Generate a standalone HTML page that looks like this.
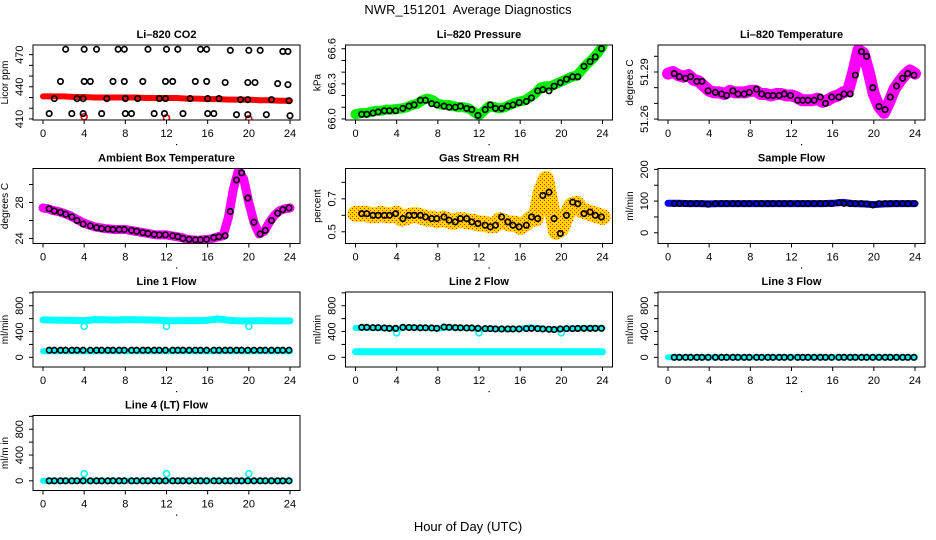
<!DOCTYPE html>
<html><head><meta charset="utf-8">
<style>
html,body{margin:0;padding:0;background:#fff;}
svg{display:block;font-family:"Liberation Sans",Arial,sans-serif;}
</style></head>
<body>
<svg id="chart" width="936" height="540" viewBox="0 0 936 540" xmlns="http://www.w3.org/2000/svg">
<defs>
<pattern id="rhpat" width="4" height="4" patternUnits="userSpaceOnUse">
<rect width="4" height="4" fill="#ffd200"/>
<rect x="0" y="0" width="1" height="1" fill="#ff2000"/>
<rect x="2" y="2" width="1" height="1" fill="#ff2000"/>
</pattern>
</defs>
<text x="468" y="14" text-anchor="middle" font-size="13" xml:space="preserve" style="white-space:pre">NWR_151201&#160; Average Diagnostics</text>
<text x="468" y="531" text-anchor="middle" font-size="13">Hour of Day (UTC)</text>
</svg>
<script>
// ---- shared hour arrays ----
const bandHoursFine = [0,0.5,1,1.5,2,2.5,3,3.5,4,4.5,5,5.5,6,6.5,7,7.5,8,8.5,9,9.5,10,10.5,11,11.5,12,12.5,13,13.5,14,14.5,15,15.5,16,16.5,17,17.5,18,18.5,19,19.5,20,20.5,21,21.5,22,22.5,23,23.5,24];
const bandHoursCoarse = [0,1,2,3,4,5,6,7,8,9,10,11,12,13,14,15,16,17,18,19,20,21,22,23,24];
const blackHours = [0.6,1.1,1.7,2.2,2.8,3.3,3.9,4.6,5.2,5.7,6.3,6.8,7.4,7.9,8.6,9.1,9.7,10.2,10.8,11.3,11.9,12.6,13.1,13.6,14.2,14.8,15.3,15.9,16.6,17.1,17.7,18.2,18.8,19.3,19.9,20.5,21.1,21.6,22.2,22.8,23.3,23.9];
const outlierHours = [4,12,20];
const xTicks = [0,4,8,12,16,20,24];

// ---- CO2 ----
const co2Band = [431,431,431,430.5,430.5,430,430,430,430,430,429.5,429.5,429.5,429.5,429,429,428.5,428.5,428,428,428,427.5,427.5,427,427];
const co2BlackHours = [2.2,4.0,5.2,7.3,7.9,10.2,12.0,13.1,15.3,15.9,18.2,20.0,21.1,23.3,23.8,
 1.7,4.0,4.6,6.8,7.9,9.7,11.9,12.6,14.8,15.9,17.7,19.9,20.6,22.8,23.8,
 1.1,3.3,3.9,6.2,8.0,9.2,11.3,11.9,14.3,16.0,17.1,19.2,19.9,22.2,23.9,
 0.6,2.8,3.9,5.7,8.0,8.6,10.8,11.8,13.6,16.0,16.6,18.8,19.9,21.7,24.0];
const co2BlackVals = [475,475,475,475,475,475,475,475,475,475,474,474,474,473,473,
 445,445,445,445,445,445,445,445,445,445,444,444,444,443,442,
 429,429,429,429,429,429,429,429,429,429,429,428,428,428,427,
 415,415,415,415,415,415,415,415,415,415,415,414,414,414,413];
const co2Outliers = [412,411,410];

// ---- Pressure ----
const presBand = [66.04,66.05,66.05,66.06,66.07,66.07,66.08,66.08,66.085,66.09,66.10,66.12,66.13,66.16,66.175,66.16,66.13,66.12,66.12,66.11,66.10,66.10,66.09,66.06,66.03,66.07,66.11,66.10,66.09,66.10,66.12,66.14,66.15,66.16,66.19,66.22,66.27,66.28,66.28,66.30,66.32,66.34,66.36,66.37,66.42,66.47,66.51,66.56,66.62];
const presBlack = [66.04,66.04,66.05,66.06,66.07,66.07,66.07,66.09,66.11,66.12,66.16,66.16,66.13,66.12,66.11,66.10,66.10,66.11,66.09,66.08,66.03,66.08,66.12,66.09,66.09,66.11,66.12,66.14,66.15,66.18,66.24,66.25,66.24,66.28,66.31,66.34,66.36,66.36,66.45,66.49,66.53,66.60];

// ---- Li-820 Temperature ----
const tempBand = [51.289,51.290,51.288,51.287,51.288,51.285,51.284,51.281,51.278,51.277,51.277,51.276,51.278,51.277,51.277,51.277,51.278,51.278,51.276,51.276,51.275,51.276,51.276,51.275,51.275,51.274,51.272,51.272,51.272,51.273,51.271,51.272,51.274,51.275,51.277,51.278,51.290,51.304,51.302,51.290,51.276,51.268,51.264,51.271,51.279,51.284,51.288,51.291,51.289];
const tempBlack = [51.289,51.287,51.286,51.287,51.284,51.284,51.278,51.277,51.276,51.275,51.278,51.276,51.276,51.277,51.279,51.276,51.275,51.275,51.275,51.276,51.275,51.272,51.272,51.272,51.272,51.274,51.270,51.274,51.274,51.276,51.276,51.288,51.303,51.300,51.280,51.268,51.266,51.274,51.281,51.286,51.289,51.288];

// ---- Ambient Box Temperature ----
const ambBand = [27.4,27.3,27.1,27.0,26.8,26.6,26.3,26.0,25.7,25.5,25.3,25.2,25.1,25.05,25.0,25.0,25.0,24.9,24.8,24.7,24.6,24.5,24.4,24.4,24.4,24.3,24.2,24.1,23.9,23.85,23.8,23.85,23.9,24.0,24.2,24.3,26.3,29.5,31.6,30.6,28.0,25.8,24.5,24.8,25.8,26.6,27.1,27.3,27.4];
const ambBlack = [27.3,27.05,26.9,26.7,26.4,26.0,25.6,25.4,25.2,25.1,25.05,25.0,25.0,25.0,24.9,24.8,24.65,24.55,24.45,24.4,24.4,24.3,24.2,24.0,23.9,23.85,23.85,23.9,24.1,24.2,24.3,27.0,30.5,31.3,28.5,25.8,24.5,24.9,26.0,26.8,27.2,27.4];

// ---- Gas Stream RH ----
const rhBand = [0.61,0.61,0.61,0.60,0.60,0.61,0.60,0.60,0.61,0.58,0.59,0.60,0.60,0.59,0.58,0.58,0.57,0.58,0.57,0.56,0.57,0.57,0.56,0.56,0.55,0.55,0.54,0.54,0.57,0.56,0.55,0.55,0.53,0.55,0.58,0.58,0.74,0.82,0.66,0.50,0.52,0.60,0.66,0.67,0.63,0.62,0.61,0.60,0.59];
const rhBlack = [0.61,0.61,0.60,0.60,0.60,0.60,0.61,0.58,0.60,0.60,0.60,0.59,0.58,0.58,0.59,0.57,0.56,0.58,0.58,0.56,0.55,0.54,0.53,0.54,0.59,0.56,0.54,0.53,0.54,0.59,0.58,0.72,0.74,0.58,0.49,0.60,0.68,0.67,0.61,0.62,0.60,0.59];

// ---- Sample Flow ----
const sampBand = [93,93,92,92,91,92,92,92,92,92,92,92,92,92,92,92,93,96,92,91,89,91,92,92,92];
const sampBlack = [92,92,92,92,92,92,90,92,92,92,92,92,92,92,92,92,92,92,92,92,92,92,92,92,92,92,92,92,95,93,92,92,92,91,88,92,92,92,92,92,92,92];

// ---- Line flows ----
const line1High = [580,578,575,572,570,585,582,578,585,583,580,578,570,568,570,570,575,595,575,565,565,568,565,565,565];
const line1Low = [95,95,95,95,95,95,95,95,95,95,95,95,95,95,95,95,95,95,95,95,95,95,95,95,95];
const line1Black = [110,110,110,110,110,110,110,110,110,110,110,110,110,110,110,110,110,110,110,110,110,110,110,110,110,110,110,110,110,110,110,110,110,110,110,110,110,110,110,110,110,110];
const line1Outliers = [480,480,480];
const line2High = [455,460,455,450,440,465,460,455,445,465,460,455,440,445,440,440,445,465,450,435,440,445,450,450,455];
const line2Low = [85,85,85,85,85,85,85,85,85,85,85,85,85,85,85,85,85,85,85,85,85,85,85,85,85];
const line2Black = [465,465,460,460,455,450,450,465,462,460,458,458,455,450,470,465,460,458,455,455,450,445,445,440,440,440,440,440,445,450,445,440,435,430,440,445,445,448,450,450,450,450];
const line2Outliers = [380,380,380];
const line3Cyan = [0,0,0,0,0,0,0,0,0,0,0,0,0,0,0,0,0,0,0,0,0,0,0,0,0];
const line3Black = [0,0,0,0,0,0,0,0,0,0,0,0,0,0,0,0,0,0,0,0,0,0,0,0,0,0,0,0,0,0,0,0,0,0,0,0,0,0,0,0,0,0];
const line4Cyan = [0,0,0,0,0,0,0,0,0,0,0,0,0,0,0,0,0,0,0,0,0,0,0,0,0];
const line4Black = [0,0,0,0,0,0,0,0,0,0,0,0,0,0,0,0,0,0,0,0,0,0,0,0,0,0,0,0,0,0,0,0,0,0,0,0,0,0,0,0,0,0];
const line4Outliers = [110,110,110];

const NS = "http://www.w3.org/2000/svg";
const svg = document.getElementById("chart");
function mk(tag, attrs, parent){
  const e = document.createElementNS(NS, tag);
  for (const k in attrs) e.setAttribute(k, attrs[k]);
  (parent||svg).appendChild(e);
  return e;
}
function slug(s){return s.toLowerCase().replace(/[^a-z0-9]+/g,'-').replace(/^-|-$/g,'');}

function panel(p){
  const left = 33 + p.col*312.5, right = left + 267;
  const top = 45 + p.row*123.5, bottom = top + 75;
  const g = mk("g", {});
  
  
  const xs = h => left + 10 + h*(247/24);
  const ys = v => bottom - (v - p.lo)/(p.hi - p.lo)*75;
  const t = mk("text", {x:(left+right)/2, y:top-7, "text-anchor":"middle", "font-size":"11", "font-weight":"bold"}, g);
  t.textContent = p.title;
  
  
  const cid = "clip" + p.col + "_" + p.row;
  const cp = mk("clipPath", {id:cid}, g);
  mk("rect", {x:left, y:top, width:267, height:75}, cp);
  const plot = mk("g", {"clip-path":"url(#"+cid+")"}, g);
  (p.bands||[]).forEach(b=>{
    const pts = b.vals.map((v,i)=>xs(b.hours[i]).toFixed(1)+","+ys(v).toFixed(1)).join(" ");
    const pl = mk("polyline", {points:pts, fill:"none", stroke:b.color, "stroke-width":b.w, "stroke-linejoin":"round", "stroke-linecap":"round"}, plot);
    
    
  });
  if (p.outliers){
    p.outliers.vals.forEach((v,i)=>{
      const c = mk("circle", {cx:xs(outlierHours[i]), cy:ys(v), r:3, fill:"none", stroke:p.outliers.color, "stroke-width":1.6}, plot);
      
      
    });
  }
  if (p.black){
    p.black.vals.forEach((v,i)=>{
      const c = mk("circle", {cx:xs(p.black.hours[i]), cy:ys(v), r:2.7, fill:"none", stroke:"#000", "stroke-width":1.7}, plot);
      
      
    });
  }
  const bx = mk("rect", {x:left, y:top, width:267, height:75, fill:"none", stroke:"#000", "stroke-width":1}, g);
  
  
  xTicks.forEach(h=>{
    mk("line", {x1:xs(h), x2:xs(h), y1:bottom, y2:bottom+4, stroke:"#000"}, g);
    const tl = mk("text", {x:xs(h), y:bottom+17, "text-anchor":"middle", "font-size":"11"}, g);
    tl.textContent = h;
    
    
  });
  mk("rect", {x:left+143, y:bottom+24, width:1.2, height:1.2, fill:"#000"}, g);
  p.ticks.forEach(v=>{
    mk("line", {x1:left, x2:left-4, y1:ys(v), y2:ys(v), stroke:"#000"}, g);
  });
  p.labels.forEach(v=>{
    const yy = ys(v), xx = left-10;
    const tl = mk("text", {x:xx, y:yy, "text-anchor":"middle", "font-size":"11", transform:"rotate(-90 "+xx+" "+yy+")"}, g);
    tl.textContent = p.fmt ? v.toFixed(p.fmt) : v;
    
    
  });
  const yl = left-25, ym = (top+bottom)/2;
  const ylab = mk("text", {x:yl, y:ym, "text-anchor":"middle", "font-size":"10", transform:"rotate(-90 "+yl+" "+ym+")"}, g);
  ylab.textContent = p.ylab;
  
  
}

const flowTicks=[0,200,400,600,800,1000], flowLabels=[0,400,800];
panel({col:0,row:0,title:"Li\u2013820 CO2",ylab:"Licor ppm",lo:409,hi:479,ticks:[410,420,430,440,450,460,470],labels:[410,440,470],
  bands:[{hours:bandHoursCoarse,vals:co2Band,color:"#ff0000",w:6}],outliers:{vals:co2Outliers,color:"#ff0000"},
  black:{hours:co2BlackHours,vals:co2BlackVals}});
panel({col:1,row:0,title:"Li\u2013820 Pressure",ylab:"kPa",lo:65.991,hi:66.632,ticks:[66.0,66.1,66.2,66.3,66.4,66.5,66.6],labels:[66.0,66.3,66.6],fmt:1,
  bands:[{hours:bandHoursFine,vals:presBand,color:"#00ee00",w:10}],black:{hours:blackHours,vals:presBlack}});
panel({col:2,row:0,title:"Li\u2013820 Temperature",ylab:"degrees C",lo:51.2594,hi:51.3072,ticks:[51.26,51.27,51.28,51.29,51.30],labels:[51.26,51.29],fmt:2,
  bands:[{hours:bandHoursFine,vals:tempBand,color:"#ff00ff",w:12}],black:{hours:blackHours,vals:tempBlack}});
panel({col:0,row:1,title:"Ambient Box Temperature",ylab:"degrees C",lo:23.44,hi:31.78,ticks:[24,26,28,30],labels:[24,28],
  bands:[{hours:bandHoursFine,vals:ambBand,color:"#ff00ff",w:9}],black:{hours:blackHours,vals:ambBlack}});
panel({col:1,row:1,title:"Gas Stream RH",ylab:"percent",lo:0.429,hi:0.884,ticks:[0.5,0.6,0.7,0.8],labels:[0.5,0.7],fmt:1,
  bands:[{hours:bandHoursFine,vals:rhBand,color:"url(#rhpat)",w:16}],black:{hours:blackHours,vals:rhBlack}});
panel({col:2,row:1,title:"Sample Flow",ylab:"ml/min",lo:-33.8,hi:202.8,ticks:[0,50,100,150,200],labels:[0,100,200],
  bands:[{hours:bandHoursCoarse,vals:sampBand,color:"#0000ff",w:7}],black:{hours:blackHours,vals:sampBlack}});
panel({col:0,row:2,title:"Line 1 Flow",ylab:"ml/min",lo:-150,hi:1013,ticks:flowTicks,labels:flowLabels,
  bands:[{hours:bandHoursCoarse,vals:line1High,color:"#00ffff",w:7},{hours:bandHoursCoarse,vals:line1Low,color:"#00ffff",w:6}],
  outliers:{vals:line1Outliers,color:"#00ffff"},black:{hours:blackHours,vals:line1Black}});
panel({col:1,row:2,title:"Line 2 Flow",ylab:"ml/min",lo:-150,hi:1013,ticks:flowTicks,labels:flowLabels,
  bands:[{hours:bandHoursCoarse,vals:line2High,color:"#00ffff",w:6},{hours:bandHoursCoarse,vals:line2Low,color:"#00ffff",w:7}],
  outliers:{vals:line2Outliers,color:"#00ffff"},black:{hours:blackHours,vals:line2Black}});
panel({col:2,row:2,title:"Line 3 Flow",ylab:"ml/min",lo:-150,hi:1013,ticks:flowTicks,labels:flowLabels,
  bands:[{hours:bandHoursCoarse,vals:line3Cyan,color:"#00ffff",w:6}],black:{hours:blackHours,vals:line3Black}});
panel({col:0,row:3,title:"Line 4 (LT) Flow",ylab:"ml/m in",lo:-150,hi:1013,ticks:flowTicks,labels:flowLabels,
  bands:[{hours:bandHoursCoarse,vals:line4Cyan,color:"#00ffff",w:6}],
  outliers:{vals:line4Outliers,color:"#00ffff"},black:{hours:blackHours,vals:line4Black}});
</script>
</body></html>
